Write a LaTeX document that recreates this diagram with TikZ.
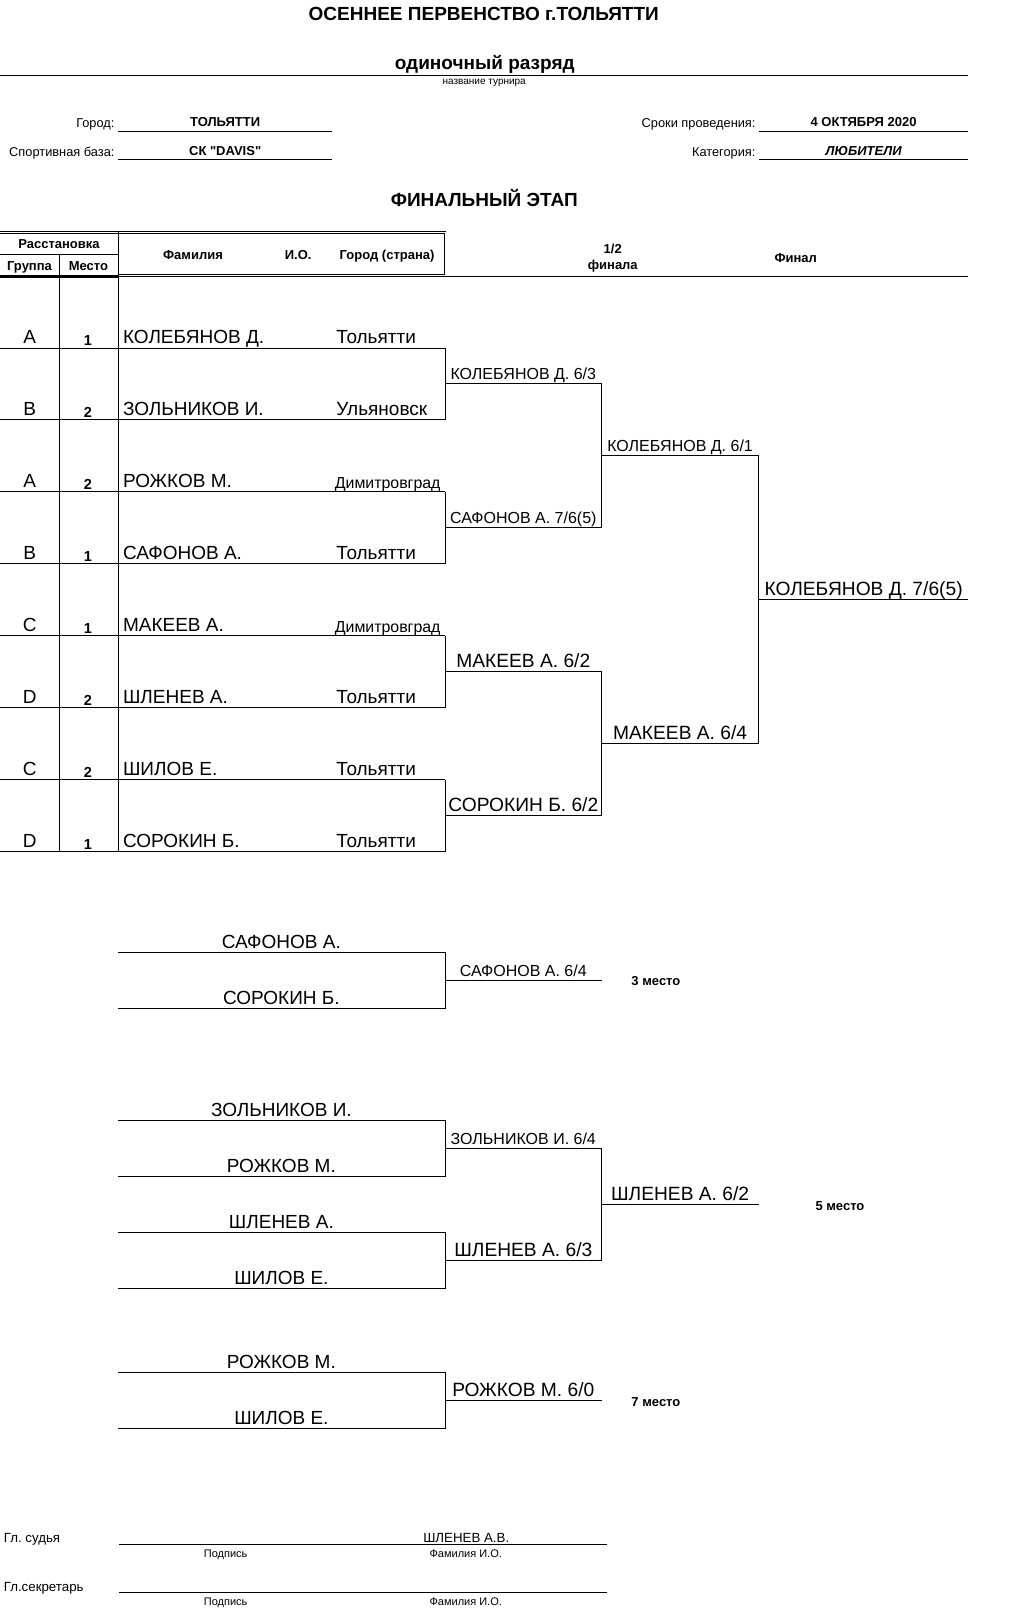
\documentclass[tikz,border=0pt]{standalone}
\usepackage{fontspec}
\setmainfont{Liberation Sans}
\setmonofont{Liberation Sans}
\usepackage{tikz}
\frenchspacing

\begin{document}
\begin{tikzpicture}[x=1.028pt, y=-1.028pt,
  every node/.style={inner sep=0pt, anchor=base},
  ln/.style={line width=1pt},
  ttl/.style={font=\bfseries\fontsize{19}{21}\selectfont},
  sub/.style={font=\fontsize{10}{12}\selectfont},
  frm/.style={font=\fontsize{12.8}{15}\selectfont},
  frmb/.style={font=\bfseries\fontsize{13}{15}\selectfont},
  head/.style={font=\bfseries\fontsize{13}{15}\selectfont},
  plr/.style={font=\fontsize{19}{21}\selectfont},
  town/.style={font=\fontsize{15.9}{18}\selectfont},
  seed/.style={font=\bfseries\fontsize{14.5}{16}\selectfont},
  res/.style={font=\fontsize{16}{18}\selectfont},
  resb/.style={font=\fontsize{19.2}{21}\selectfont},
  place/.style={font=\bfseries\fontsize{13}{15}\selectfont},
  sign/.style={font=\fontsize{13.3}{15}\selectfont},
  tiny/.style={font=\fontsize{11}{13}\selectfont}]
\useasboundingbox (0,0) rectangle (1003,1566);

% Heading
\node[ttl] (title) at (470.5,20) {ОСЕННЕЕ ПЕРВЕНСТВО г.ТОЛЬЯТТИ};
\node[ttl] (event) at (471.5,68) {одиночный разряд};
\draw[ln] (0,73.3) -- (942,73.3);
\node[sub] (eventnote) at (471,82) {название турнира};

% Form fields
\node[frm, anchor=base east] (citylbl) at (111.5,124) {Город:};
\node[frmb] (city) at (219,123) {ТОЛЬЯТТИ};
\draw[ln] (115,127.5) -- (323,127.5);
\node[frm, anchor=base east] (baselbl) at (111.5,152) {Спортивная база:};
\node[frmb, font=\ttfamily\bfseries\fontsize{13}{15}\selectfont] (base) at (219,151) {СК "DAVIS"};
\draw[ln] (115,155) -- (323,155);
\node[frm, anchor=base east] (datelbl) at (735,124) {Сроки проведения:};
\node[frmb] (date) at (840,123) {4 ОКТЯБРЯ 2020};
\draw[ln] (738,127.5) -- (942,127.5);
\node[frm, anchor=base east] (catlbl) at (735,152) {Категория:};
\node[frmb, font=\bfseries\itshape\fontsize{13}{15}\selectfont] (cat) at (840,151) {ЛЮБИТЕЛИ};
\draw[ln] (738,155) -- (942,155);

\node[ttl] (stage) at (471,201) {ФИНАЛЬНЫЙ ЭТАП};

% Table head
\draw[line width=0.7pt, double, double distance=1.1pt] (0,226) -- (433,226) -- (433,267.8) -- (114.8,267.8);
\draw[line width=3pt] (0,269) -- (114.8,269);
\draw[ln] (433,268.5) -- (942,268.5);
\draw[ln] (0,247.4) -- (114.8,247.4);
\draw[ln] (114.8,226) -- (114.8,828.5);
\draw[ln] (57.4,247.4) -- (57.4,828.5);
\node[head] (seeding) at (57.4,242) {Расстановка};
\node[head] (group) at (28.7,263) {Группа};
\node[head] (place) at (86,263) {Место};
\node[head] (surname) at (187.7,252.5) {Фамилия};
\node[head] (initials) at (290,252.5) {И.О.};
\node[head] (town) at (376.5,252.5) {Город (страна)};
\node[head] (semi) at (596,246.5) {1/2};
\node[head] (semi2) at (596,262.5) {финала};
\node[head] (final) at (774,255.5) {Финал};

% Rows
\draw[ln] (0,338.5) -- (433,338.5);
\draw[ln] (0,408.5) -- (433,408.5);
\draw[ln] (0,478.5) -- (433,478.5);
\draw[ln] (0,548.5) -- (433,548.5);
\draw[ln] (0,618.5) -- (433,618.5);
\draw[ln] (0,688.5) -- (433,688.5);
\draw[ln] (0,758.5) -- (433,758.5);
\draw[ln] (0,828.5) -- (433,828.5);

\node[plr] (g1) at (29,334) {A};
\node[seed] (p1) at (85.4,336.5) {1};
\node[plr, anchor=base west] (n1) at (119.5,334) {КОЛЕБЯНОВ Д.};
\node[plr, anchor=base west] (c1) at (327,334) {Тольятти};

\node[plr] (g2) at (29,404) {B};
\node[seed] (p2) at (85.4,406.5) {2};
\node[plr, anchor=base west] (n2) at (119.5,404) {ЗОЛЬНИКОВ И.};
\node[plr, anchor=base west] (c2) at (327,404) {Ульяновск};

\node[plr] (g3) at (29,474) {A};
\node[seed] (p3) at (85.4,476.5) {2};
\node[plr, anchor=base west] (n3) at (119.5,474) {РОЖКОВ М.};
\node[town, anchor=base west] (c3) at (325.5,475) {Димитровград};

\node[plr] (g4) at (29,544) {B};
\node[seed] (p4) at (85.4,546.5) {1};
\node[plr, anchor=base west] (n4) at (119.5,544) {САФОНОВ А.};
\node[plr, anchor=base west] (c4) at (327,544) {Тольятти};

\node[plr] (g5) at (29,614) {C};
\node[seed] (p5) at (85.4,616.5) {1};
\node[plr, anchor=base west] (n5) at (119.5,614) {МАКЕЕВ А.};
\node[town, anchor=base west] (c5) at (325.5,615) {Димитровград};

\node[plr] (g6) at (29,684) {D};
\node[seed] (p6) at (85.4,686.5) {2};
\node[plr, anchor=base west] (n6) at (119.5,684) {ШЛЕНЕВ А.};
\node[plr, anchor=base west] (c6) at (327,684) {Тольятти};

\node[plr] (g7) at (29,754) {C};
\node[seed] (p7) at (85.4,756.5) {2};
\node[plr, anchor=base west] (n7) at (119.5,754) {ШИЛОВ Е.};
\node[plr, anchor=base west] (c7) at (327,754) {Тольятти};

\node[plr] (g8) at (29,824) {D};
\node[seed] (p8) at (85.4,826.5) {1};
\node[plr, anchor=base west] (n8) at (119.5,824) {СОРОКИН Б.};
\node[plr, anchor=base west] (c8) at (327,824) {Тольятти};

% Bracket
\draw[ln] (433,338.5) -- (433,408.5);
\draw[ln] (433,478.5) -- (433,548.5);
\draw[ln] (433,618.5) -- (433,688.5);
\draw[ln] (433,758.5) -- (433,828.5);
\draw[ln] (433,373.5) -- (585.5,373.5) -- (585.5,513.5) -- (433,513.5);
\draw[ln] (433,653.5) -- (585.5,653.5) -- (585.5,793.5) -- (433,793.5);
\draw[ln] (585.5,443.5) -- (738,443.5) -- (738,723.5) -- (585.5,723.5);
\draw[ln] (738,583.5) -- (942,583.5);

\node[res] (s1) at (509,369.5) {КОЛЕБЯНОВ Д. 6/3};
\node[res] (s2) at (509,509.5) {САФОНОВ А. 7/6(5)};
\node[resb] (s3) at (509,649.5) {МАКЕЕВ А. 6/2};
\node[resb] (s4) at (509,789.5) {СОРОКИН Б. 6/2};
\node[res] (f1) at (661.5,439.5) {КОЛЕБЯНОВ Д. 6/1};
\node[resb] (f2) at (661.5,719.5) {МАКЕЕВ А. 6/4};
\node[resb] (champ) at (840,579.5) {КОЛЕБЯНОВ Д. 7/6(5)};

% Third place
\draw[ln] (115,926.4) -- (433,926.4) -- (433,980.9) -- (115,980.9);
\draw[ln] (433,953.6) -- (585.5,953.6);
\node[plr] (t1) at (273.7,922.4) {САФОНОВ А.};
\node[plr] (t2) at (273.7,976.9) {СОРОКИН Б.};
\node[res] (t3) at (509,949.6) {САФОНОВ А. 6/4};
\node[place] (third) at (638,959) {3 место};

% Fifth place
\draw[ln] (115,1089.9) -- (433,1089.9) -- (433,1144.4) -- (115,1144.4);
\draw[ln] (115,1198.9) -- (433,1198.9) -- (433,1253.4) -- (115,1253.4);
\draw[ln] (433,1117.1) -- (585.5,1117.1) -- (585.5,1226.1) -- (433,1226.1);
\draw[ln] (585.5,1171.6) -- (738,1171.6);
\node[plr] (v1) at (273.7,1085.9) {ЗОЛЬНИКОВ И.};
\node[plr] (v2) at (273.7,1140.4) {РОЖКОВ М.};
\node[plr] (v3) at (273.7,1194.9) {ШЛЕНЕВ А.};
\node[plr] (v4) at (273.7,1249.4) {ШИЛОВ Е.};
\node[res] (v5) at (509,1113.1) {ЗОЛЬНИКОВ И. 6/4};
\node[resb] (v6) at (509,1222.1) {ШЛЕНЕВ А. 6/3};
\node[resb] (v7) at (661.5,1167.6) {ШЛЕНЕВ А. 6/2};
\node[place] (fifth) at (817,1177) {5 место};

% Seventh place
\draw[ln] (115,1335.2) -- (433,1335.2) -- (433,1389.7) -- (115,1389.7);
\draw[ln] (433,1362.4) -- (585.5,1362.4);
\node[plr] (w1) at (273.7,1331.2) {РОЖКОВ М.};
\node[plr] (w2) at (273.7,1385.7) {ШИЛОВ Е.};
\node[resb] (w3) at (509,1358.4) {РОЖКОВ М. 6/0};
\node[place] (seventh) at (638,1368) {7 место};

% Signatures
\node[sign, anchor=base west] (judge) at (3.5,1500) {Гл. судья};
\draw[ln] (116,1502.5) -- (590,1502.5);
\node[sign] (judgename) at (453.5,1500) {ШЛЕНЕВ А.В.};
\node[tiny] (sig1) at (219.5,1515) {Подпись};
\node[tiny] (fio1) at (453,1515) {Фамилия И.О.};
\node[sign, anchor=base west] (secr) at (3.5,1547.5) {Гл.секретарь};
\draw[ln] (116,1549) -- (590,1549);
\node[tiny] (sig2) at (219.5,1561.5) {Подпись};
\node[tiny] (fio2) at (453,1561.5) {Фамилия И.О.};
\end{tikzpicture}
\end{document}
